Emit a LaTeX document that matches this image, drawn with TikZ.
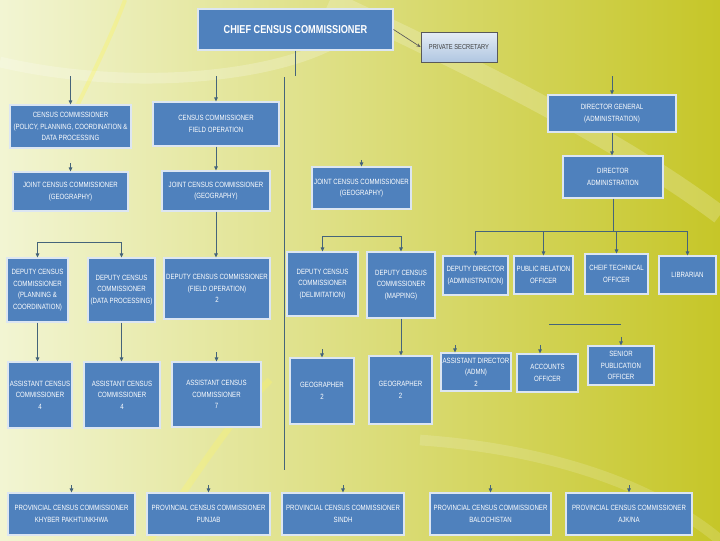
\documentclass[tikz,border=0pt]{standalone}
\usepackage{fontspec}
\setmainfont{Liberation Sans}
\newfontfamily\narrowf[FakeStretch=0.8]{Liberation Sans}
\usetikzlibrary{arrows.meta,shadows,calc}
\definecolor{boxblue}{HTML}{4F81BD}
\definecolor{boxedge}{HTML}{DCE6F2}
\definecolor{lineblue}{HTML}{45647A}
\definecolor{bgleft}{HTML}{F2F5D3}
\definecolor{bgright}{HTML}{C6C628}
\newcommand\obox[6]{\node[box,minimum width=#4*0.75pt,minimum height=#5*0.75pt] (#1) at (#2,#3) {#6};}
\begin{document}
\begin{tikzpicture}[x=0.75pt,y=-0.75pt,
  box/.style={draw=boxedge, line width=0.8pt, fill=boxblue, text=white,
    font=\narrowf\fontsize{5.7}{8.6}\selectfont, align=center, inner sep=1pt,
    drop shadow={opacity=0.3,shadow xshift=1pt,shadow yshift=-1pt}},
  ln/.style={draw=lineblue, line width=0.7pt},
  arr/.style={ln, -{Triangle[length=3pt,width=2.6pt]}},
]
% background
\useasboundingbox (0,0) rectangle (720,540);
\shade[left color=bgleft, right color=bgright] (0,0) rectangle (720,540);
\draw[white, opacity=0.22, line width=8pt] (0,62) .. controls (120,90) and (260,80) .. (330,45);
\draw[yellow!70!white, opacity=0.3, line width=3pt] (60,140) .. controls (90,80) and (110,40) .. (125,0);
\draw[white, opacity=0.2, line width=14pt] (330,0) .. controls (480,70) and (620,140) .. (720,215);
\draw[white, opacity=0.15, line width=8pt] (420,440) .. controls (560,450) and (660,490) .. (720,540);
\draw[yellow!60!white, opacity=0.3, line width=5pt] (150,540) .. controls (200,470) and (230,420) .. (270,380);

% top
\node[box, font=\narrowf\bfseries\fontsize{8.6}{10}\selectfont, minimum width=195*0.75pt, minimum height=41*0.75pt] (chief) at (295.5,29.5) {CHIEF CENSUS COMMISSIONER};
\node[draw=gray!70!black, line width=0.6pt, top color=boxblue!15!white, bottom color=boxblue!45!white,
  text=black!75, font=\narrowf\fontsize{5.4}{7}\selectfont, minimum width=76*0.75pt, minimum height=30*0.75pt,
  drop shadow={opacity=0.25,shadow xshift=1pt,shadow yshift=-1pt}] (ps) at (459,47) {PRIVATE SECRETARY};

% row 2
\obox{ccp}{70.5}{126.5}{121}{43}{CENSUS COMMISSIONER\\(POLICY, PLANNING, COORDINATION \&\\DATA PROCESSING}
\obox{ccf}{216}{124}{126}{44}{CENSUS COMMISSIONER\\FIELD OPERATION}
\obox{dg}{612}{113.5}{128}{37}{DIRECTOR GENERAL\\(ADMINISTRATION)}
\obox{da}{613}{177}{100}{42}{DIRECTOR\\ADMINISTRATION}
% row 3
\obox{jcc1}{70.5}{191.5}{115}{39}{JOINT CENSUS COMMISSIONER\\(GEOGRAPHY)}
\obox{jcc2}{216}{191}{108}{40}{JOINT CENSUS COMMISSIONER\\(GEOGRAPHY)}
\obox{jcc3}{361.5}{188}{99}{42}{JOINT CENSUS COMMISSIONER\\(GEOGRAPHY)}
% row 4
\obox{dcp}{37.5}{290}{61}{64}{DEPUTY CENSUS\\COMMISSIONER\\(PLANNING \&\\COORDINATION)}
\obox{dcd}{121.5}{290}{67}{64}{DEPUTY CENSUS\\COMMISSIONER\\(DATA PROCESSING)}
\obox{dcf}{217}{288.5}{106}{61}{DEPUTY CENSUS COMMISSIONER\\(FIELD OPERATION)\\2}
\obox{dcl}{322.5}{284}{71}{64}{DEPUTY CENSUS\\COMMISSIONER\\(DELIMITATION)}
\obox{dcm}{401}{285}{68}{66}{DEPUTY CENSUS\\COMMISSIONER\\(MAPPING)}
\obox{ddA}{475.5}{275.5}{65}{39}{DEPUTY DIRECTOR\\(ADMINISTRATION)}
\obox{pro}{543.5}{275}{59}{38}{PUBLIC RELATION\\OFFICER}
\obox{cto}{616.5}{274}{63}{40}{CHEIF TECHNICAL\\OFFICER}
\obox{lib}{687.5}{275}{57}{38}{LIBRARIAN}
% row 5
\obox{acc1}{40}{395}{64}{66}{ASSISTANT CENSUS\\COMMISSIONER\\4}
\obox{acc2}{122}{395}{76}{66}{ASSISTANT CENSUS\\COMMISSIONER\\4}
\obox{acc3}{216.5}{394.5}{89}{65}{ASSISTANT CENSUS\\COMMISSIONER\\7}
\obox{geo1}{322}{391}{64}{66}{GEOGRAPHER\\2}
\obox{geo2}{400.5}{390}{63}{68}{GEOGRAPHER\\2}
\obox{ada}{476}{372}{70}{38}{ASSISTANT DIRECTOR\\(ADMN)\\2}
\obox{ao}{547.5}{373}{61}{38}{ACCOUNTS\\OFFICER}
\obox{spo}{621}{365.5}{66}{39}{SENIOR\\PUBLICATION\\OFFICER}
% bottom
\obox{p1}{71.5}{514}{127}{42}{PROVINCIAL CENSUS COMMISSIONER\\KHYBER PAKHTUNKHWA}
\obox{p2}{208.5}{514}{123}{42}{PROVINCIAL CENSUS COMMISSIONER\\PUNJAB}
\obox{p3}{343}{514}{122}{42}{PROVINCIAL CENSUS COMMISSIONER\\SINDH}
\obox{p4}{490.5}{514}{121}{42}{PROVINCIAL CENSUS COMMISSIONER\\BALOCHISTAN}
\obox{p5}{629}{514}{126}{42}{PROVINCIAL CENSUS COMMISSIONER\\AJK/NA}

% connectors
\draw[ln, -{Stealth[length=3pt,width=2.5pt]}, draw=gray!70!black, line width=0.5pt] (chief.east) -- (ps.west);
\coordinate (cd) at (295.5,76);
\draw[ln] (chief.south) -- (cd);
\coordinate (v1) at (284,77);
\coordinate (v2) at (284,470);
\draw[ln] (v1) -- (v2);
\draw[arr] ([yshift=21pt]ccp.north) -- (ccp.north);
\draw[arr] ([yshift=18.75pt]ccf.north) -- (ccf.north);
\draw[arr] ([yshift=13.5pt]dg.north) -- (dg.north);
\draw[arr] (dg.south) -- (da.north -| dg.south);
\draw[arr] ([yshift=6pt]jcc1.north) -- (jcc1.north);
\draw[arr] (ccf.south) -- (jcc2.north);
\draw[arr] ([yshift=5pt]jcc3.north) -- (jcc3.north);
\draw[arr] (jcc2.south) -- (dcf.north -| jcc2.south);
% left fork
\coordinate (b1) at (121.5,242);
\draw[arr] (b1) -| (dcp.north);
\draw[arr] (b1) -- (dcd.north);
% middle fork
\coordinate (b2) at (401,236);
\draw[arr] (b2) -| (dcl.north);
\draw[arr] (b2) -- (dcm.north);
% admin fork
\coordinate (b3) at (613,231);
\draw[ln] (da.south) -- (b3);
\draw[arr] (b3) -| (ddA.north);
\draw[arr] (b3) -| (pro.north);
\draw[arr] (b3) -| (cto.north);
\draw[arr] (b3) -| (lib.north);
\coordinate (h1) at (549,324);
\coordinate (h2) at (621,324);
\draw[ln] (h1) -- (h2);
% row 5 links
\draw[arr] (dcp.south) -- (acc1.north -| dcp.south);
\draw[arr] (dcd.south) -- (acc2.north -| dcd.south);
\draw[arr] ([yshift=7pt]acc3.north) -- (acc3.north);
\draw[arr] ([yshift=6pt]geo1.north) -- (geo1.north);
\draw[arr] (dcm.south) -- (geo2.north -| dcm.south);
\draw[arr] ([xshift=-15.75pt,yshift=5.5pt]ada.north) -- ([xshift=-15.75pt]ada.north);
\draw[arr] ([xshift=-5.6pt,yshift=6.5pt]ao.north) -- ([xshift=-5.6pt]ao.north);
\draw[arr] ([yshift=6.5pt]spo.north) -- (spo.north);
% bottom stubs
\foreach \p in {p1,p2,p3,p4,p5}
  \draw[arr] ([yshift=5.5pt]\p.north) -- (\p.north);
\end{tikzpicture}
\end{document}
